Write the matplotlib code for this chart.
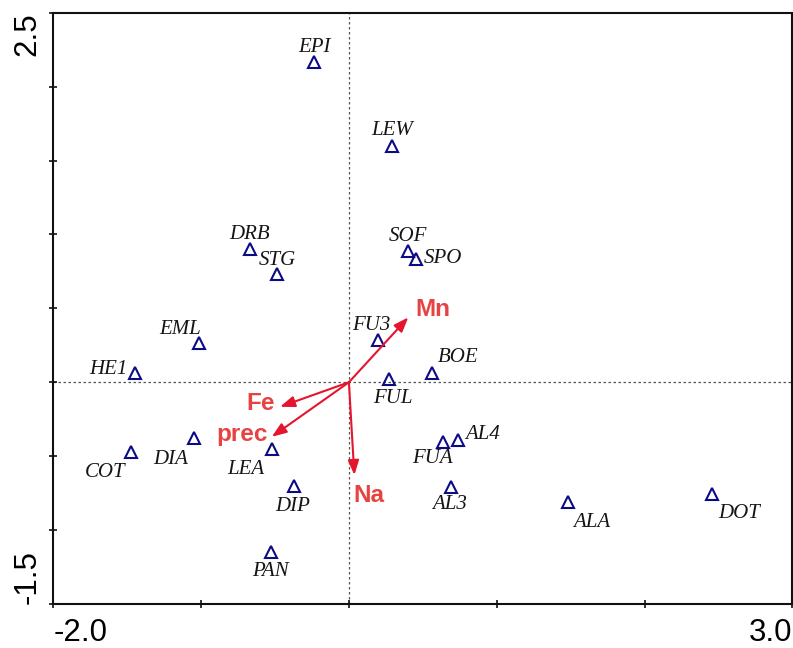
import matplotlib
matplotlib.use("Agg")
import matplotlib.pyplot as plt

# Sample (species) scores on the first two ordination axes
species = ['EPI', 'LEW', 'DRB', 'STG', 'SOF', 'SPO', 'EML', 'HE1', 'FU3', 'BOE',
           'FUL', 'DIA', 'COT', 'LEA', 'FUA', 'AL4', 'DIP', 'AL3', 'ALA', 'DOT', 'PAN']
axis1 = [-0.236, 0.290, -0.667, -0.486, 0.398, 0.454, -1.016, -1.447, 0.195, 0.564,
         0.271, -1.046, -1.474, -0.520, 0.635, 0.740, -0.371, 0.689, 1.480, 2.459, -0.529]
axis2 = [2.168, 1.600, 0.899, 0.730, 0.888, 0.836, 0.263, 0.064, 0.286, 0.060,
         0.020, -0.376, -0.470, -0.452, -0.403, -0.393, -0.702, -0.707, -0.813, -0.756, -1.147]

# Environmental variable vectors
env_vars = ['Mn', 'Fe', 'prec', 'Na']
env_x = [0.402, -0.466, -0.522, 0.037]
env_y = [0.439, -0.166, -0.369, -0.628]

# Axis ranges and end labels
xlim = (-2.0, 3.0)
ylim = (-1.5, 2.5)
xticks = [-2.0, -1.0, 0.0, 1.0, 2.0, 3.0]
xticklabels = ['-2.0', '', '', '', '', '3.0']
yticks = [-1.5, -1.0, -0.5, 0.0, 0.5, 1.0, 1.5, 2.0, 2.5]
yticklabels = ['-1.5', '', '', '', '', '', '', '', '2.5']

# Label placement (pixel offsets of the text baseline from each marker)
label_offsets = {
    'EPI': (0, 10), 'LEW': (0, 11), 'DRB': (-1, 10), 'STG': (0, 9), 'SOF': (0, 10),
    'SPO': (27, -4), 'EML': (-19, 9), 'HE1': (-27, -1), 'FU3': (-6, 10), 'BOE': (26, 11),
    'FUL': (4, -24), 'DIA': (-24, -26), 'COT': (-26, -25), 'LEA': (-26, -25),
    'FUA': (-10, -21), 'AL4': (24, 1), 'DIP': (-1, -25), 'AL3': (-1, -22),
    'ALA': (24, -25), 'DOT': (27, -24), 'PAN': (0, -24),
}
env_label_pos = {
    'Mn': (0.569, 0.448), 'Fe': (-0.597, -0.188),
    'prec': (-0.725, -0.398), 'Na': (0.134, -0.809),
}

ARROW_RED = '#E5152F'
TEXT_RED = '#E84343'
NAVY = '#0B0B85'

fig = plt.figure(figsize=(7.93, 6.48), dpi=100)
ax = fig.add_axes([53.3 / 793, 1 - 604 / 648, (792.3 - 53.3) / 793, (604 - 12.7) / 648])

ax.set_xlim(*xlim)
ax.set_ylim(*ylim)

# Reference lines through the origin
ax.axhline(0, color='#555555', lw=0.9, ls=(0, (2, 2)), zorder=1)
ax.axvline(0, color='#555555', lw=0.9, ls=(0, (2, 2)), zorder=1)

# Species markers and names
ax.plot(axis1, axis2, ls='none', marker='^', ms=8.5, mfc='none', mec=NAVY, mew=1.5, zorder=3)
for name, x, y in zip(species, axis1, axis2):
    ax.annotate(name, (x, y), xytext=label_offsets[name], textcoords='offset pixels',
                ha='center', va='baseline', fontsize=15, fontstyle='italic',
                family='Liberation Serif', color='#151515', zorder=4)

# Environmental arrows
for name, x, y in zip(env_vars, env_x, env_y):
    ax.annotate('', xy=(x, y), xytext=(0, 0),
                arrowprops=dict(arrowstyle='-|>,head_length=0.8,head_width=0.3',
                                mutation_scale=11, color=ARROW_RED, lw=1.5,
                                shrinkA=0, shrinkB=0), zorder=5)
    lx, ly = env_label_pos[name]
    ax.text(lx, ly, name, ha='center', va='baseline', fontsize=17.5, fontweight='bold',
            family='Liberation Sans', color=TEXT_RED, zorder=6)

# Frame and ticks
for s in ax.spines.values():
    s.set_linewidth(1.5)
    s.set_color('#111111')
ax.set_xticks(xticks)
ax.set_xticklabels(xticklabels, family='Liberation Sans', fontsize=22.5)
ax.set_yticks(yticks)
ax.set_yticklabels(yticklabels, family='Liberation Sans', fontsize=22.5, rotation=90)
ax.tick_params(direction='inout', length=6, width=1.2, color='#111111')
ax.tick_params(axis='x', pad=7)
ax.tick_params(axis='y', pad=5)

xl = ax.get_xticklabels()
xl[0].set_ha('left')
xl[-1].set_ha('right')
yl = ax.get_yticklabels()
yl[0].set_va('bottom')
yl[-1].set_va('top')

fig.savefig('out.png', dpi=100, facecolor='white')
